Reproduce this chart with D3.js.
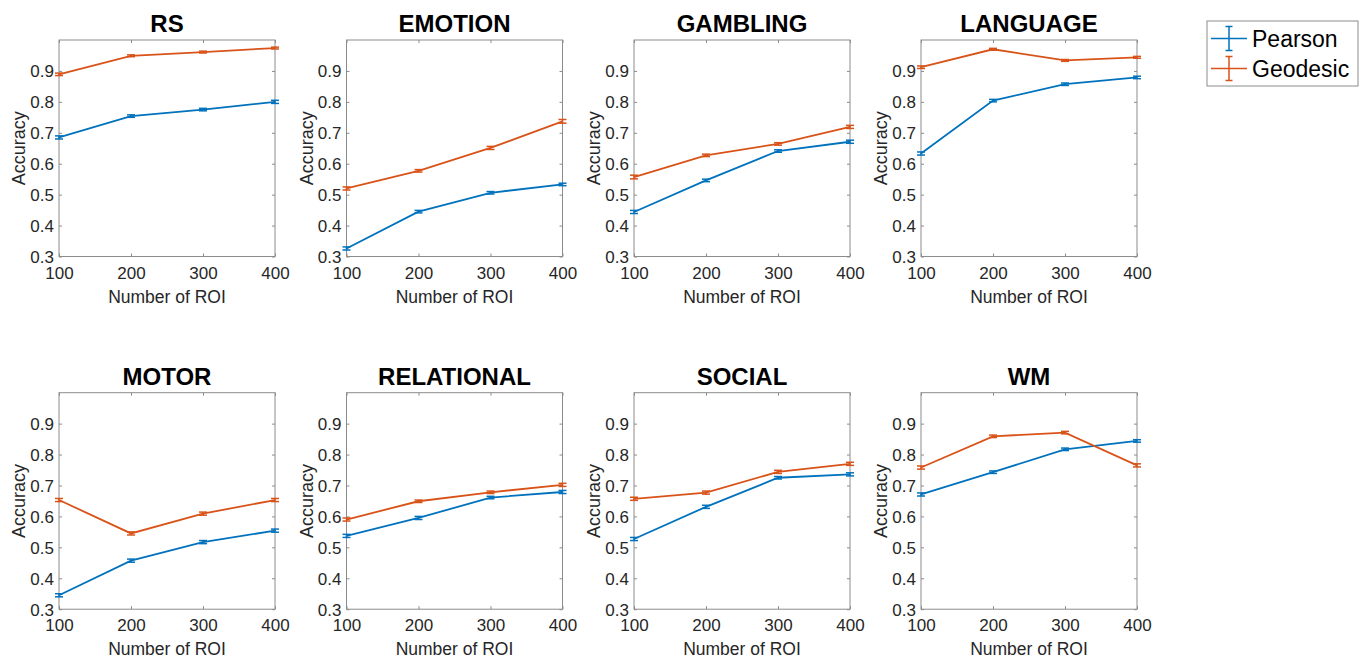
<!DOCTYPE html>
<html><head><meta charset="utf-8">
<script src="https://cdn.jsdelivr.net/npm/d3@7"></script>
<style>body{margin:0;background:#fff}svg{display:block}</style>
</head><body><svg id="c" width="1370" height="659"></svg>
<script>
const titles = ["RS","EMOTION","GAMBLING","LANGUAGE","MOTOR","RELATIONAL","SOCIAL","WM"];
const rois = [100,200,300,400];
const yTicks = [0.3,0.4,0.5,0.6,0.7,0.8,0.9];
const seriesNames = ["Pearson","Geodesic"];
const pearson = [
  [0.685,0.754,0.775,0.800],
  [0.326,0.445,0.506,0.533],
  [0.444,0.546,0.641,0.671],
  [0.633,0.804,0.857,0.879],
  [0.345,0.457,0.517,0.554],
  [0.537,0.595,0.661,0.679],
  [0.527,0.631,0.725,0.736],
  [0.671,0.743,0.817,0.844]
];
const geodesic = [
  [0.889,0.949,0.961,0.974],
  [0.520,0.577,0.651,0.737],
  [0.557,0.627,0.664,0.719],
  [0.912,0.970,0.934,0.944],
  [0.653,0.545,0.609,0.653],
  [0.590,0.649,0.678,0.702],
  [0.657,0.677,0.744,0.770],
  [0.758,0.859,0.871,0.765]
];
const pearsonErr = [
  [0.005,0.004,0.004,0.005],[0.005,0.004,0.004,0.004],[0.005,0.004,0.004,0.005],[0.005,0.004,0.004,0.004],
  [0.005,0.005,0.005,0.005],[0.005,0.005,0.004,0.005],[0.005,0.005,0.004,0.005],[0.005,0.004,0.004,0.004]
];
const geodesicErr = [
  [0.004,0.003,0.003,0.003],[0.005,0.004,0.005,0.006],[0.006,0.004,0.004,0.005],[0.004,0.003,0.003,0.003],
  [0.005,0.005,0.005,0.005],[0.005,0.004,0.004,0.005],[0.005,0.005,0.005,0.005],[0.005,0.004,0.004,0.005]
];
const colors = ["#0072BD","#D95319"];

const svg = d3.select("#c");
const font = "'Liberation Sans', Arial, sans-serif";
const lefts = [59, 346.5, 634, 921];
const tops = [40, 392.7];
const W = 216, H = 216.5;
const axisCol = "#8c8c8c", textCol = "#262626";

titles.forEach((t, i) => {
  const col = i % 4, row = Math.floor(i / 4);
  const g = svg.append("g").attr("transform", `translate(${lefts[col]},${tops[row]})`);
  const x = d3.scaleLinear().domain([100,400]).range([0, W]);
  const y = d3.scaleLinear().domain([0.3,1.0]).range([H, 0]);

  g.append("rect").attr("width", W).attr("height", H).attr("fill","none").attr("stroke",axisCol).attr("stroke-width",1);

  const ay = g.append("g").call(d3.axisLeft(y).tickValues(yTicks).tickSize(-3).tickPadding(5).tickFormat(d3.format(".1f")));
  const ay2 = g.append("g").attr("transform",`translate(${W},0)`).call(d3.axisRight(y).tickValues(yTicks).tickSize(-3).tickFormat(""));
  const ax = g.append("g").attr("transform",`translate(0,${H})`).call(d3.axisBottom(x).tickValues(rois).tickSize(-3).tickPadding(6).tickFormat(d3.format("d")));
  const ax2 = g.append("g").call(d3.axisTop(x).tickValues(rois).tickSize(-3).tickFormat(""));
  [ay,ay2,ax,ax2].forEach(a => {
    a.select(".domain").remove();
    a.selectAll(".tick line").attr("stroke",axisCol);
    a.selectAll("text").attr("fill",textCol).style("font-family",font).style("font-size","17px");
  });
  ay.selectAll("text").attr("dy","0.35em");
  ax.selectAll("text").attr("dy","0.71em").attr("y", 10);

  g.append("text").attr("x", W/2).attr("y", -8).attr("text-anchor","middle")
    .style("font-family",font).style("font-size","24px").style("font-weight","bold").attr("fill","#000").text(t);
  g.append("text").attr("x", W/2).attr("y", H + 46).attr("text-anchor","middle")
    .style("font-family",font).style("font-size","17.5px").attr("fill",textCol).text("Number of ROI");
  g.append("text").attr("transform",`translate(${-34},${H/2}) rotate(-90)`).attr("text-anchor","middle")
    .style("font-family",font).style("font-size","18px").attr("fill",textCol).text("Accuracy");

  const sets = [[pearson[i], pearsonErr[i]], [geodesic[i], geodesicErr[i]]];
  sets.forEach(([vals, errs], s) => {
    const line = d3.line().x((d,k) => x(rois[k])).y(d => y(d));
    g.append("path").datum(vals).attr("d", line).attr("fill","none").attr("stroke",colors[s]).attr("stroke-width",1.8);
    const eb = g.append("g").attr("stroke",colors[s]).attr("stroke-width",1.5);
    vals.forEach((v,k) => {
      const cx = x(rois[k]);
      eb.append("line").attr("x1",cx).attr("x2",cx).attr("y1",y(v-errs[k])).attr("y2",y(v+errs[k]));
      eb.append("line").attr("x1",cx-4).attr("x2",cx+4).attr("y1",y(v-errs[k])).attr("y2",y(v-errs[k]));
      eb.append("line").attr("x1",cx-4).attr("x2",cx+4).attr("y1",y(v+errs[k])).attr("y2",y(v+errs[k]));
    });
  });
});

const lg = svg.append("g").attr("transform","translate(1207,21)");
lg.append("rect").attr("width",151).attr("height",65).attr("fill","#fff").attr("stroke","#8c8c8c").attr("stroke-width",1);
seriesNames.forEach((n, s) => {
  const cy = 17.5 + s * 30;
  const gg = lg.append("g").attr("stroke",colors[s]).attr("stroke-width",1.5);
  gg.append("line").attr("x1",4).attr("x2",40).attr("y1",cy).attr("y2",cy);
  gg.append("line").attr("x1",22).attr("x2",22).attr("y1",cy-12).attr("y2",cy+12);
  gg.append("line").attr("x1",18.5).attr("x2",25.5).attr("y1",cy-12).attr("y2",cy-12);
  gg.append("line").attr("x1",18.5).attr("x2",25.5).attr("y1",cy+12).attr("y2",cy+12);
  lg.append("text").attr("x",45).attr("y",cy).attr("dy","0.35em")
    .style("font-family",font).style("font-size","23px").attr("fill","#000").text(n);
});
</script></body></html>
